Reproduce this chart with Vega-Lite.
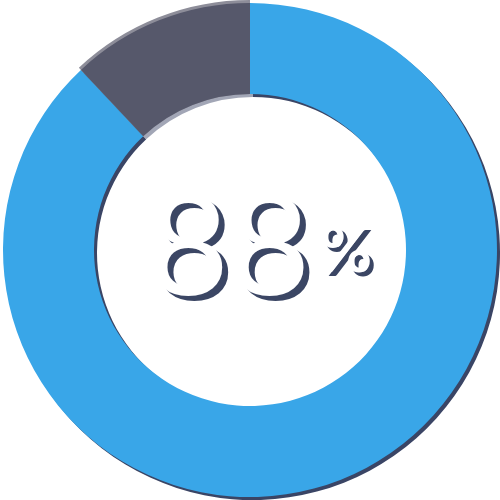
{
  "$schema": "https://vega.github.io/schema/vega-lite/v6.json",
  "width": 496,
  "height": 496,
  "padding": {"left": 0, "top": 0, "right": 4, "bottom": 4},
  "background": "white",
  "view": {"stroke": null},
  "datasets": {
    "slices": [
      {"category": "done", "value": 88, "idx": 1},
      {"category": "rest", "value": 12, "idx": 2}
    ],
    "labels": [
      {"part": "number", "label": "88"},
      {"part": "unit", "label": "%"}
    ]
  },
  "layer": [
    {
      "data": {"name": "slices"},
      "mark": {"type": "arc", "outerRadius": 247, "innerRadius": 156, "xOffset": 3, "yOffset": 3},
      "encoding": {
        "theta": {"field": "value", "type": "quantitative", "stack": true},
        "order": {"field": "idx", "type": "quantitative"},
        "color": {"condition": {"test": "datum.category === 'done'", "value": "#3a4565"}, "value": "#a2a6b6"}
      }
    },
    {
      "data": {"name": "slices"},
      "mark": {"type": "arc", "outerRadius": 250, "innerRadius": 156},
      "encoding": {
        "theta": {"field": "value", "type": "quantitative", "stack": true},
        "order": {"field": "idx", "type": "quantitative"},
        "color": {"value": "#8d8d99"},
        "opacity": {"condition": {"test": "datum.category === 'done'", "value": 0}, "value": 1}
      }
    },
    {
      "data": {"name": "slices"},
      "mark": {"type": "arc", "outerRadius": 247, "innerRadius": 156},
      "encoding": {
        "theta": {"field": "value", "type": "quantitative", "stack": true},
        "order": {"field": "idx", "type": "quantitative"},
        "color": {"condition": {"test": "datum.category === 'done'", "value": "#39a6e8"}, "value": "#56586b"}
      }
    },
    {
      "data": {"name": "labels"},
      "transform": [{"filter": "datum.part === 'number'"}],
      "mark": {"type": "text", "font": "Lato", "fontSize": 140, "fontWeight": "normal", "color": "#3b4664", "dx": -15, "dy": 8, "align": "center", "baseline": "middle"},
      "encoding": {"text": {"field": "label"}}
    },
    {
      "data": {"name": "labels"},
      "transform": [{"filter": "datum.part === 'number'"}],
      "mark": {"type": "text", "font": "Lato", "fontSize": 140, "fontWeight": "normal", "color": "white", "dx": -21, "dy": 3, "align": "center", "baseline": "middle"},
      "encoding": {"text": {"field": "label"}}
    },
    {
      "data": {"name": "labels"},
      "transform": [{"filter": "datum.part === 'unit'"}],
      "mark": {"type": "text", "font": "Lato", "fontSize": 64, "fontWeight": "bold", "color": "#3b4664", "dx": 100, "dy": 7, "align": "center", "baseline": "middle"},
      "encoding": {"text": {"field": "label"}}
    },
    {
      "data": {"name": "labels"},
      "transform": [{"filter": "datum.part === 'unit'"}],
      "mark": {"type": "text", "font": "Lato", "fontSize": 64, "fontWeight": "bold", "color": "white", "dx": 96, "dy": 3, "align": "center", "baseline": "middle"},
      "encoding": {"text": {"field": "label"}}
    }
  ]
}
